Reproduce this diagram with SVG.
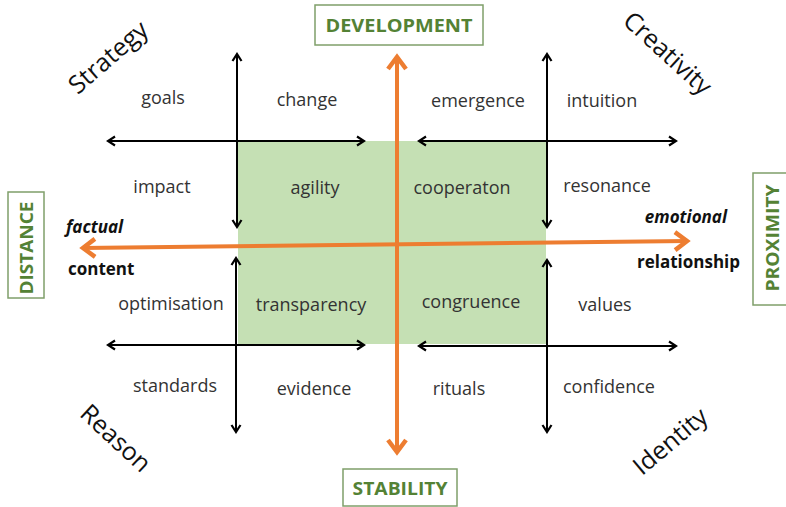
<svg xmlns="http://www.w3.org/2000/svg" width="786" height="507" viewBox="0 0 786 507">
<defs>
<style>
.lbl{font-family:"Open Sans","Noto Sans",sans-serif;font-size:18px;fill:#333;text-anchor:middle}
.diag{font-family:"Open Sans","Noto Sans",sans-serif;font-size:25px;fill:#111;text-anchor:middle}
.bold{font-family:"Open Sans","Noto Sans",sans-serif;font-size:17px;font-weight:bold;fill:#111}
.ax{font-family:"Open Sans","Noto Sans",sans-serif;font-size:18px;font-weight:bold;fill:#548235;text-anchor:middle}
.box{fill:#fff;stroke:#7f9f6a;stroke-width:1.5}
.blk{stroke:#000;stroke-width:2;fill:none;marker-start:url(#bh);marker-end:url(#bh)}
.org{stroke:#ed7d31;stroke-width:4;fill:none;marker-start:url(#oh);marker-end:url(#oh)}
</style>
<marker id="bh" viewBox="0 0 12 12" refX="10" refY="6" markerWidth="12" markerHeight="12" markerUnits="userSpaceOnUse" orient="auto-start-reverse">
<path d="M3,1.5 L10,6 L3,10.5" fill="none" stroke="#000" stroke-width="2.2" stroke-linejoin="miter"/>
</marker>
<marker id="oh" viewBox="0 0 24 24" refX="21" refY="12" markerWidth="24" markerHeight="24" markerUnits="userSpaceOnUse" orient="auto-start-reverse">
<path d="M8,3 L20,12 L8,21" fill="none" stroke="#ed7d31" stroke-width="4.5" stroke-linejoin="miter"/>
</marker>
</defs>
<rect width="786" height="507" fill="#fff"/>
<g id="center-area"><rect x="238" y="141" width="308" height="203" fill="#c5e0b4"/></g>
<g id="connectors">
<line class="blk" x1="237" y1="54" x2="237" y2="227"/>
<line class="blk" x1="236" y1="258" x2="236" y2="432"/>
<line class="blk" x1="547" y1="54" x2="547" y2="227"/>
<line class="blk" x1="547" y1="260" x2="547" y2="432"/>
<line class="blk" x1="108" y1="141" x2="364" y2="141"/>
<line class="blk" x1="419" y1="141" x2="676" y2="141"/>
<line class="blk" x1="108" y1="345" x2="364" y2="345"/>
<line class="blk" x1="419" y1="346" x2="676" y2="346"/>
<line class="org" x1="397" y1="56" x2="397" y2="453"/>
<line class="org" x1="82" y1="248" x2="688" y2="241"/>
</g>
<g id="labels">
<text class="lbl" x="163" y="104">goals</text>
<text class="lbl" x="307" y="106">change</text>
<text class="lbl" x="478" y="107">emergence</text>
<text class="lbl" x="602" y="107">intuition</text>
<text class="lbl" x="162" y="193">impact</text>
<text class="lbl" x="315" y="194">agility</text>
<text class="lbl" x="462" y="194">cooperaton</text>
<text class="lbl" x="607" y="192">resonance</text>
<text class="lbl" x="171" y="310">optimisation</text>
<text class="lbl" x="311" y="311">transparency</text>
<text class="lbl" x="471" y="308">congruence</text>
<text class="lbl" x="605" y="311">values</text>
<text class="lbl" x="175" y="392">standards</text>
<text class="lbl" x="314" y="395">evidence</text>
<text class="lbl" x="459" y="395">rituals</text>
<text class="lbl" x="609" y="393">confidence</text>
</g>
<g id="poles">
<text class="bold" x="66" y="233" font-style="italic">factual</text>
<text class="bold" x="68" y="275">content</text>
<text class="bold" x="727" y="223" font-style="italic" text-anchor="end">emotional</text>
<text class="bold" x="637" y="268">relationship</text>
</g>
<g id="corners">
<text class="diag" transform="translate(108,57) rotate(-41)" y="9">Strategy</text>
<text class="diag" transform="translate(668,53) rotate(42.5)" y="9">Creativity</text>
<text class="diag" transform="translate(116,438) rotate(43)" y="9">Reason</text>
<text class="diag" transform="translate(670,441) rotate(-40)" y="9">Identity</text>
</g>
<g id="development"><rect class="box" x="315" y="5" width="168" height="40"/><text class="ax" x="399" y="32" textLength="147" lengthAdjust="spacingAndGlyphs">DEVELOPMENT</text></g>
<g id="stability"><rect class="box" x="343" y="469" width="114" height="37"/><text class="ax" x="400" y="495" textLength="95" lengthAdjust="spacingAndGlyphs">STABILITY</text></g>
<g id="distance"><rect class="box" x="8" y="192" width="36" height="106"/><text class="ax" transform="translate(33,248) rotate(-90)" textLength="93" lengthAdjust="spacingAndGlyphs">DISTANCE</text></g>
<g id="proximity"><rect class="box" x="753" y="173" width="40" height="132"/><text class="ax" transform="translate(779,238) rotate(-90)" textLength="107" lengthAdjust="spacingAndGlyphs">PROXIMITY</text></g>
</svg>
